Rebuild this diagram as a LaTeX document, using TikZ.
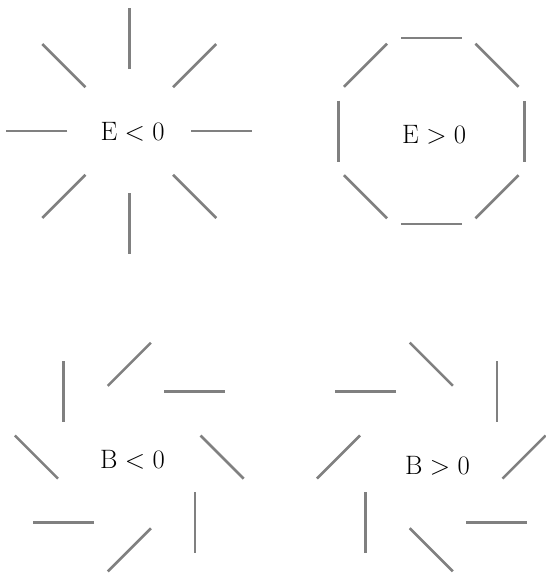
\documentclass[tikz,border=0pt]{standalone}
\usepackage{graphicx}
\definecolor{segcol}{RGB}{128,128,128}
\newcommand{\lbltext}[1]{\scalebox{1.07}{\Huge$#1$}}
\begin{document}
\begin{tikzpicture}[x=1pt,y=1pt,
  seg/.style={draw=segcol,line width=2.6pt},
  lbl/.style={anchor=base,inner sep=0pt}]
\useasboundingbox (0,0) rectangle (546,-576);
% E < 0 : radial
\foreach \a in {0,45,...,315}
  \draw[seg,shift={(129.3,-131)},rotate=\a] (62,0) -- (123,0);
\node[lbl] (el) at (132.5,-140) {\lbltext{\mathrm{E} < 0}};
% E > 0 : tangential
\foreach \a in {0,45,...,315}
  \draw[seg,shift={(431.3,-131)},rotate=\a] (93,-30.5) -- (93,30.5);
\node[lbl] (eg) at (434.2,-143.7) {\lbltext{\mathrm{E} > 0}};
% B < 0
\foreach \a in {0,45,...,315}
  \draw[seg,shift={(129.3,-457.1)},rotate=\a,shift={(92.8,0)},rotate=-45] (-30.5,0) -- (30.5,0);
\node[lbl] (bl) at (132.5,-468.7) {\lbltext{\mathrm{B} < 0}};
% B > 0
\foreach \a in {0,45,...,315}
  \draw[seg,shift={(431.3,-457)},rotate=\a,shift={(92.8,0)},rotate=45] (-30.5,0) -- (30.5,0);
\node[lbl] (bg) at (437.5,-474.7) {\lbltext{\mathrm{B} > 0}};
\end{tikzpicture}
\end{document}
